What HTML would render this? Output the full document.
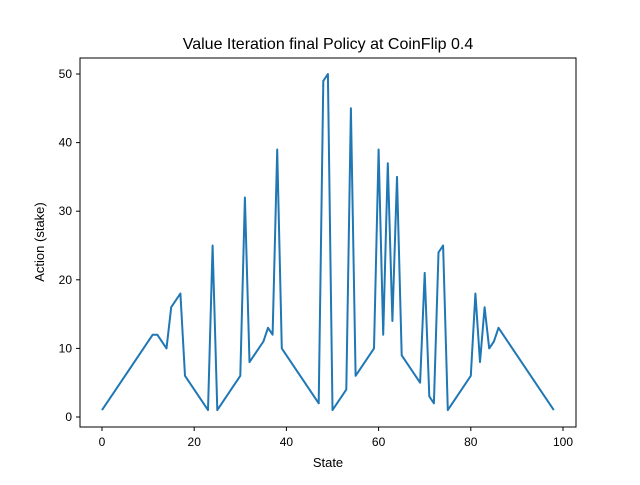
<!DOCTYPE html>
<html><head><meta charset="utf-8"><style>
body{margin:0;background:#fff;}
svg text{font-family:"Liberation Sans","DejaVu Sans",sans-serif;fill:#000;}
</style></head><body>
<svg id="chart" width="640" height="480" xmlns="http://www.w3.org/2000/svg">
<rect width="640" height="480" fill="#fff"/>
<text x="328" y="49" font-size="16" text-anchor="middle">Value Iteration final Policy at CoinFlip 0.4</text>
<g id="ticks"></g>
<path id="line" fill="none" stroke="#1f77b4" stroke-width="2" stroke-linejoin="round"/>
<rect x="80" y="58" width="496" height="369" fill="none" stroke="#000" stroke-width="1"/>
<text x="328" y="467" font-size="13" text-anchor="middle">State</text>
<text transform="translate(44,242) rotate(-90)" font-size="13" text-anchor="middle">Action (stake)</text>
</svg>
<script>
const states=[0,11,12,14,15,17,18,23,24,25,30,31,32,35,36,37,38,39,47,48,49,50,53,54,55,59,60,61,62,63,64,65,69,70,71,72,73,74,75,80,81,82,83,84,85,86,98];
const actions=[1,12,12,10,16,18,6,1,25,1,6,32,8,11,13,12,39,10,2,49,50,1,4,45,6,10,39,12,37,14,35,9,5,21,3,2,24,25,1,6,18,8,16,10,11,13,1];
const xTicks=[0,20,40,60,80,100];
const yTicks=[0,10,20,30,40,50];
const xs=v=>102+v*4.61;
const ys=v=>417-v*6.86;
const ns="http://www.w3.org/2000/svg";
document.getElementById('line').setAttribute('d',states.map((s,i)=>(i?'L':'M')+xs(s).toFixed(1)+','+ys(actions[i]).toFixed(1)).join(''));
const g=document.getElementById('ticks');
xTicks.forEach(t=>{
 const l=document.createElementNS(ns,'line');
 l.setAttribute('x1',xs(t));l.setAttribute('x2',xs(t));l.setAttribute('y1',427);l.setAttribute('y2',431);l.setAttribute('stroke','#000');
 
 
 g.appendChild(l);
 const tx=document.createElementNS(ns,'text');
 tx.setAttribute('x',xs(t));tx.setAttribute('y',446);tx.setAttribute('font-size','12');tx.setAttribute('text-anchor','middle');
 tx.textContent=t;
 
 
 g.appendChild(tx);
});
yTicks.forEach(t=>{
 const l=document.createElementNS(ns,'line');
 l.setAttribute('x1',76);l.setAttribute('x2',80);l.setAttribute('y1',ys(t));l.setAttribute('y2',ys(t));l.setAttribute('stroke','#000');
 
 
 g.appendChild(l);
 const tx=document.createElementNS(ns,'text');
 tx.setAttribute('x',72);tx.setAttribute('y',ys(t)+4);tx.setAttribute('font-size','12');tx.setAttribute('text-anchor','end');
 tx.textContent=t;
 
 
 g.appendChild(tx);
});
</script>
</body></html>
